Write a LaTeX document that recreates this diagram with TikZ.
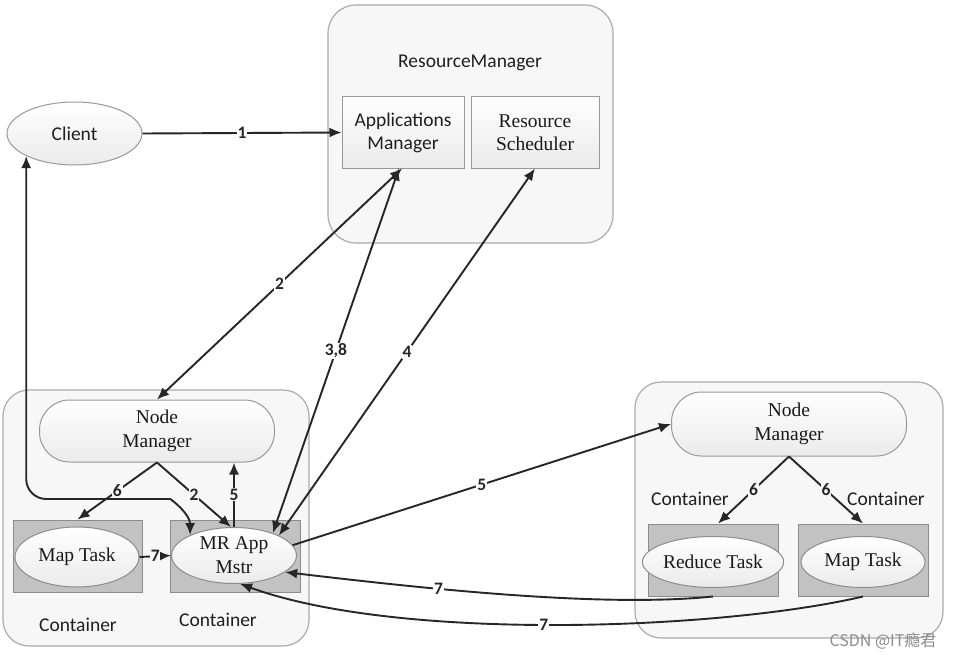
\documentclass[tikz,border=0pt]{standalone}
\usepackage{fontspec}
\setmainfont{Liberation Serif}
\newfontfamily\calfont{Carlito}
\newfontfamily\cjkfont{Noto Sans CJK SC}
\usetikzlibrary{arrows.meta,shapes.geometric}
\begin{document}
\begin{tikzpicture}[x=1pt,y=-1pt,
 bigbox/.style={draw=black!33, line width=1.2pt, fill=black!3, rounded corners=28pt, inner sep=0pt},
 inbox/.style={draw=black!40, line width=1pt, top color=white, bottom color=black!8, align=center, inner sep=0pt},
 pill/.style={draw=black!40, line width=1pt, rounded corners=30pt, top color=white, bottom color=black!8, minimum width=235pt, align=center, inner sep=0pt, text=black!90, font=\fontsize{19.5}{24}\selectfont},
 cont/.style={draw=black!45, fill=black!24, line width=1pt, minimum width=130pt, minimum height=72pt, inner sep=0pt},
 task/.style={ellipse, draw=black!45, line width=1pt, top color=white, bottom color=black!8, minimum width=124pt, inner sep=0pt, align=center, text=black!90, font=\fontsize{19.5}{24}\selectfont},
 sans/.style={font=\calfont\fontsize{19.5}{23}\selectfont, text=black!88},
 arr/.style={-{Latex[length=12pt,width=10pt]}, line width=1.9pt, draw=black!85},
 both/.style={{Latex[length=12pt,width=10pt]}-{Latex[length=12pt,width=10pt]}, line width=1.9pt, draw=black!85},
 num/.style={font=\calfont\bfseries\fontsize{17.5}{17.5}\selectfont, inner sep=1pt, fill=white, text=black!85},
 numin/.style={num, fill=black!3},
 ]
\fill[white] (0,0) rectangle (962,661);
\useasboundingbox (0,0) rectangle (962,661);

% ResourceManager
\node[bigbox, minimum width=285pt, minimum height=238pt] (rmbox) at (470.5,124) {};
\node[sans] (rmlabel) at (470,63) {ResourceManager};
\node[inbox, sans, minimum width=122pt, minimum height=71pt] (am) at (403,132.5) {Applications\\Manager};
\node[inbox, font=\fontsize{19.5}{23}\selectfont, text=black!90, minimum width=128pt, minimum height=71pt] (rs) at (535,132.5) {Resource\\Scheduler};

% Client
\node[ellipse, draw=black!40, line width=1pt, top color=white, bottom color=black!8, minimum width=135pt, minimum height=63pt, inner sep=0pt, sans] (client) at (74.5,133.5) {Client};

% left node
\node[bigbox, rounded corners=26pt, minimum width=306pt, minimum height=256pt] (leftbox) at (156,518) {};
\node[pill, minimum height=62pt] (nml) at (157,431) {Node\\Manager};
\node[cont, minimum width=129pt] (mapc) at (77.5,556) {};
\node[cont] (mrc) at (235,556) {};
\node[task, minimum height=60pt] (mapt) at (77,557) {Map Task};
\node[task, minimum width=125pt, minimum height=56pt] (mr) at (234,555.5) {MR App\\Mstr};
\node[sans] (cl1) at (78,625) {Container};
\node[sans] (cl2) at (218,620) {Container};

% right node
\node[bigbox, rounded corners=26pt, minimum width=308pt, minimum height=256pt] (rightbox) at (789,510) {};
\node[pill, minimum height=64pt] (nmr) at (789,424) {Node\\Manager};
\node[cont] (redc) at (713,560) {};
\node[cont] (mapc2) at (863,560) {};
\node[task, minimum height=51pt] (redt) at (713,562) {Reduce Task};
\node[task, minimum height=51pt] (mapt2) at (863,562) {Map Task};
\node[sans] (cl3) at (690,499) {Container};
\node[sans] (cl4) at (886,499) {Container};

% connectors
\draw[arr] (client.east) -- node[num]{1} (am.west);
\draw[both] ([xshift=-1pt]am.south) -- node[num]{2} (nml.north);
\draw[both] (mr.30) -- node[num]{3,8} ([xshift=-4pt]am.south);
\draw[both] (mr.24) -- node[num]{4} (rs.south);
\draw[arr] (mr.10) -- node[num, pos=0.5]{5} (nmr.west);

\draw[both, rounded corners=20pt] (client.205) |- (150,499) to[out=0,in=90] (mr.155);
\draw[arr] (nml.south) -- node[numin]{6} (mapc.north);
\draw[arr] (nml.south) -- node[numin]{2} ([xshift=-3pt]mr.north);
\draw[arr] (mr.north) -- node[numin]{5} (mr.north |- nml.south);
\draw[arr] (mapt.east) -- node[numin, inner sep=0.5pt]{7} (mr.west);

\draw[arr] (nmr.south) -- node[numin]{6} ([xshift=5pt]redc.north);
\draw[arr] (nmr.south) -- node[numin]{6} (mapc2.north);

\draw[arr] (redc.south) .. controls (600,608) and (420,588) .. node[num, pos=0.65]{7} (mr.-18);
\draw[arr] (mapc2.south) .. controls (720,630) and (400,642) .. node[num, pos=0.52]{7} (mr.-78);

% watermark
\node[font=\cjkfont\fontsize{16}{16}\selectfont, text=black!45] (wm) at (883,641) {CSDN @IT瘾君};
\end{tikzpicture}
\end{document}
